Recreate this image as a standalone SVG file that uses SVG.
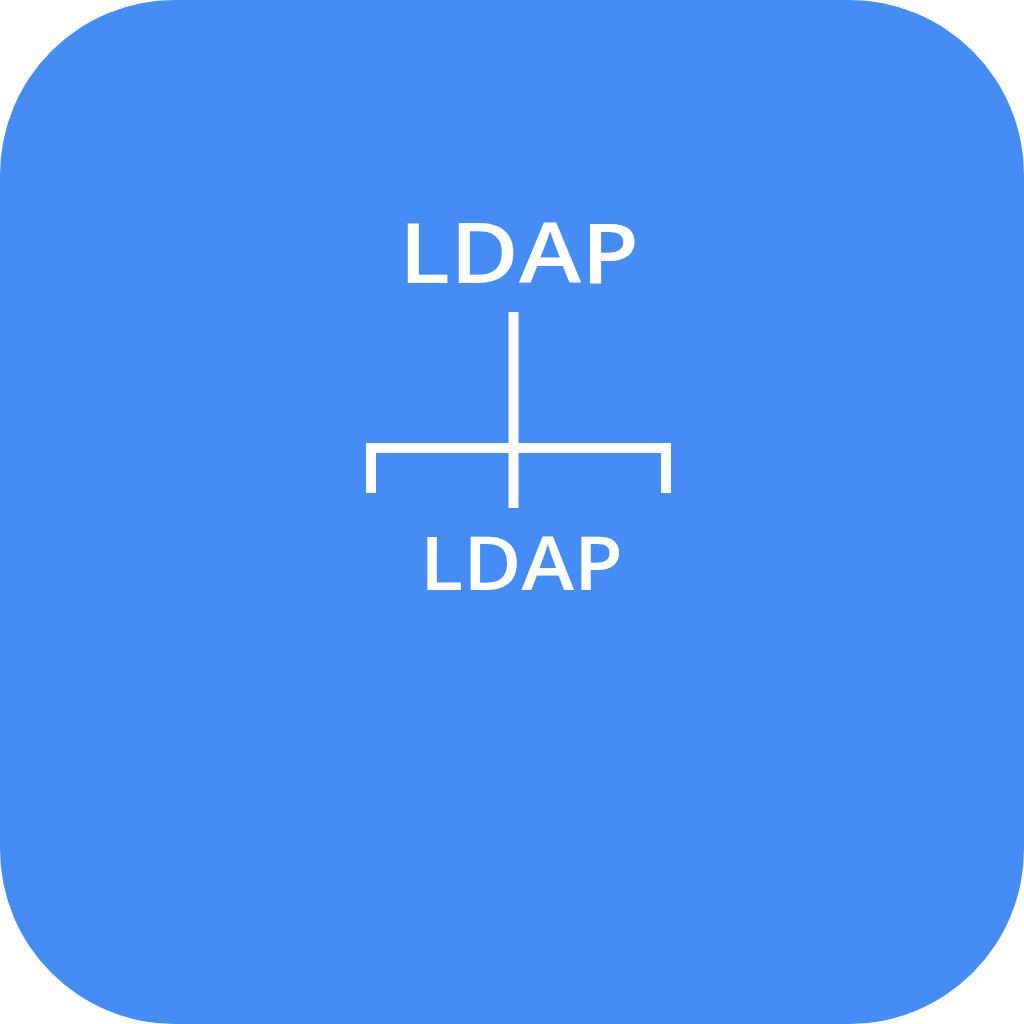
<svg xmlns="http://www.w3.org/2000/svg" width="1024" height="1024" viewBox="0 0 1024 1024">
<style>
.lbl{font-family:"Open Sans","Liberation Sans",sans-serif;font-weight:600;fill:#ffffff}
.ln{stroke:#ffffff;stroke-width:10;fill:none;stroke-linejoin:miter}
</style>
<rect width="1024" height="1024" fill="#ffffff"/>
<rect id="bg" x="0" y="0" width="1024" height="1024" rx="175" ry="175" fill="#468CF5"/>
<g id="node-top"><text class="lbl" x="399" y="283" font-size="84" textLength="240" lengthAdjust="spacingAndGlyphs">LDAP</text></g>
<g id="connectors">
<line class="ln" x1="513.5" y1="312" x2="513.5" y2="508"/>
<polyline class="ln" points="371,493 371,448 666,448 666,493"/>
</g>
<g id="node-bottom"><text class="lbl" x="420" y="590" font-size="75" textLength="203" lengthAdjust="spacingAndGlyphs">LDAP</text></g>
</svg>
